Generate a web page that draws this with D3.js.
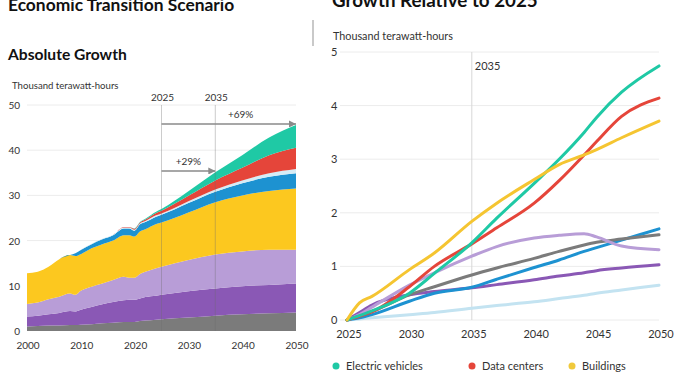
<!DOCTYPE html>
<html>
<head>
<meta charset="utf-8">
<script src="https://cdn.jsdelivr.net/npm/d3@7"></script>
<style>
  body { margin: 0; background: #fff; }
  svg { font-family: Lato, "Open Sans", sans-serif; }
</style>
</head>
<body>
<svg id="chart" width="674" height="375"></svg>
<script>
// ---- Absolute growth (stacked), thousand TWh per layer ----
const years = [2000, 2002, 2004, 2006, 2008, 2009, 2010, 2012, 2014, 2016, 2018, 2019, 2020, 2021, 2022, 2024, 2025, 2030, 2035, 2040, 2045, 2050];
const grayLayer   = [1.0, 1.1, 1.2, 1.2, 1.3, 1.3, 1.4, 1.5, 1.7, 1.8, 2.0, 2.0, 2.0, 2.2, 2.3, 2.5, 2.6, 3.0, 3.4, 3.7, 3.9, 4.1];
const darkPurple  = [2.2, 2.3, 2.5, 2.8, 3.1, 3.0, 3.3, 3.8, 4.2, 4.6, 4.8, 4.9, 4.9, 5.0, 5.2, 5.3, 5.4, 5.8, 6.0, 6.2, 6.3, 6.4];
const lightPurple = [2.8, 2.9, 3.3, 3.6, 3.9, 3.7, 4.2, 4.5, 4.6, 4.9, 5.2, 4.9, 4.9, 5.4, 5.6, 6.1, 6.2, 6.9, 7.5, 7.7, 7.8, 7.5];
const buildings   = [6.8, 6.8, 7.2, 8.3, 8.5, 8.6, 8.1, 8.5, 8.7, 8.7, 9.2, 9.4, 9.1, 9.4, 9.4, 9.8, 9.8, 10.5, 11.6, 12.4, 13.0, 13.5];
const blueLayer   = [0, 0, 0, 0, 0, 0.6, 0.9, 0.9, 1.1, 1.2, 1.5, 1.5, 1.3, 1.6, 1.6, 1.6, 1.7, 2.1, 2.3, 2.7, 3.1, 3.4];
const heatPumps   = [0, 0, 0, 0, 0, 0, 0.1, 0.1, 0.1, 0.1, 0.2, 0.2, 0.2, 0.2, 0.25, 0.3, 0.3, 0.4, 0.5, 0.6, 0.8, 0.95];
const dataCenters = [0, 0, 0, 0, 0, 0, 0, 0, 0, 0, 0.1, 0.1, 0.2, 0.2, 0.3, 0.5, 0.6, 1.2, 2.0, 2.8, 4.0, 4.7];
const evs         = [0, 0, 0, 0, 0, 0, 0, 0, 0, 0, 0, 0, 0.1, 0.1, 0.2, 0.3, 0.4, 1.0, 1.8, 2.8, 3.9, 5.0];

// ---- Growth relative to 2025 (lines) ----
const relYears = [2025, 2026, 2027, 2030, 2032, 2035, 2037, 2040, 2042, 2044, 2045, 2047, 2050];
const relEvs         = [0, 0.08, 0.17, 0.5, 0.87, 1.44, 1.9, 2.55, 3.0, 3.5, 3.78, 4.25, 4.74];
const relDataCenters = [0, 0.07, 0.15, 0.62, 1.0, 1.42, 1.72, 2.18, 2.6, 3.08, 3.33, 3.8, 4.14];
const relBuildings   = [0, 0.32, 0.44, 0.94, 1.25, 1.84, 2.18, 2.62, 2.9, 3.08, 3.18, 3.4, 3.71];
const relLightPurple = [0, 0.1, 0.24, 0.65, 0.88, 1.19, 1.37, 1.53, 1.58, 1.61, 1.55, 1.38, 1.31];
const relGray        = [0, 0.08, 0.16, 0.47, 0.62, 0.84, 0.97, 1.15, 1.28, 1.4, 1.45, 1.51, 1.59];
const relBlue        = [0, 0.04, 0.1, 0.35, 0.5, 0.61, 0.76, 0.98, 1.12, 1.28, 1.35, 1.49, 1.7];
const relDarkPurple  = [0, 0.14, 0.28, 0.47, 0.53, 0.6, 0.66, 0.75, 0.82, 0.88, 0.92, 0.97, 1.03];
const relHeatPumps   = [0, 0.02, 0.04, 0.1, 0.14, 0.22, 0.27, 0.34, 0.4, 0.46, 0.5, 0.56, 0.65];

const absTicks = [0, 10, 20, 30, 40, 50];
const absYearTicks = [2000, 2010, 2020, 2030, 2040, 2050];
const relTicks = [0, 1, 2, 3, 4, 5];
const relYearTicks = [2025, 2030, 2035, 2040, 2045, 2050];
const markerYears = [2025, 2035];
const growthArrows = [
  { from: 2025, to: 2050, level: 45.8, label: '+69%', labelAt: 2039.7 },
  { from: 2025, to: 2035, level: 35.4, label: '+29%', labelAt: 2030 }
];

const colors = {
  gray: '#7b7b7b', darkPurple: '#8a58b5', lightPurple: '#b89dd7', buildings: '#fcc81f',
  blue: '#1d92d1', heatPumps: '#d6ecf6', dataCenters: '#e5453a', evs: '#1fc9a5'
};

const layers = [
  { key: 'gray', values: grayLayer },
  { key: 'darkPurple', values: darkPurple },
  { key: 'lightPurple', values: lightPurple },
  { key: 'buildings', values: buildings },
  { key: 'blue', values: blueLayer },
  { key: 'heatPumps', values: heatPumps },
  { key: 'dataCenters', values: dataCenters },
  { key: 'evs', values: evs }
];

const lines = [
  { key: 'heatPumps', values: relHeatPumps, color: '#c3e3f1' },
  { key: 'darkPurple', values: relDarkPurple },
  { key: 'blue', values: relBlue },
  { key: 'gray', values: relGray },
  { key: 'lightPurple', values: relLightPurple },
  { key: 'dataCenters', values: relDataCenters },
  { key: 'evs', values: relEvs },
  { key: 'buildings', values: relBuildings, color: '#f5c531' }
];

const svg = d3.select('#chart');
const textColor = '#333';

// titles
svg.append('text').attr('x', 8).attr('y', 11)
  .attr('font-size', 17.4).attr('font-weight', 700).attr('fill', '#111')
  .text('Economic Transition Scenario');
svg.append('text').attr('x', 332).attr('y', 7)
  .attr('font-size', 18.8).attr('font-weight', 700).attr('fill', '#111')
  .text('Growth Relative to 2025');
svg.append('rect').attr('x', 312).attr('y', 20).attr('width', 2).attr('height', 26).attr('fill', '#c9c9c9');
svg.append('text').attr('x', 8).attr('y', 60)
  .attr('font-size', 15.6).attr('font-weight', 700).attr('fill', '#111')
  .text('Absolute Growth');

// ---------- left: stacked area ----------
const xL = d3.scaleLinear().domain([2000, 2050]).range([27, 296]);
const yL = d3.scaleLinear().domain([0, 50]).range([331, 105]);

svg.append('text').attr('x', 12).attr('y', 89).attr('font-size', 9.6).attr('fill', textColor)
  .text('Thousand terawatt-hours');

const left = svg.append('g');
left.selectAll('.grid').data(absTicks.filter((d) => d > 0)).enter().append('line')
  .attr('x1', xL(2000)).attr('x2', xL(2050))
  .attr('y1', (d) => yL(d)).attr('y2', (d) => yL(d))
  .attr('stroke', '#ececec');

left.selectAll('.ytick').data(absTicks).enter().append('text')
  .attr('x', 20).attr('y', (d) => yL(d) + 4)
  .attr('text-anchor', 'end').attr('font-size', 10).attr('fill', textColor)
  .text((d) => d);

left.selectAll('.xtick').data(absYearTicks).enter().append('text')
  .attr('x', (d) => xL(d) + 1).attr('y', 349)
  .attr('text-anchor', 'middle').attr('font-size', 10).attr('fill', textColor)
  .text((d) => d);

const table = years.map((yr, i) => {
  const row = { year: yr };
  layers.forEach((l) => row[l.key] = l.values[i]);
  return row;
});
const stacked = d3.stack().keys(layers.map((l) => l.key))(table);
const area = d3.area()
  .x((d) => xL(d.data.year))
  .y0((d) => yL(d[0]))
  .y1((d) => yL(d[1]))
  .curve(d3.curveMonotoneX);

left.selectAll('.layer').data(stacked).enter().append('path')
  .attr('d', area)
  .attr('fill', (d) => colors[d.key]);

// markers for 2025 / 2035
left.selectAll('.marker').data(markerYears).enter().append('line')
  .attr('x1', (d) => xL(d)).attr('x2', (d) => xL(d))
  .attr('y1', yL(50)).attr('y2', yL(0))
  .attr('stroke', 'rgba(110,110,110,0.35)').attr('stroke-width', 1);
left.selectAll('.marker-label').data(markerYears).enter().append('text')
  .attr('x', (d) => xL(d) + 1).attr('y', 101)
  .attr('text-anchor', 'middle').attr('font-size', 10).attr('fill', textColor)
  .text((d) => d);

svg.append('defs').append('marker')
  .attr('id', 'arrow').attr('viewBox', '0 0 10 10')
  .attr('refX', 10).attr('refY', 5)
  .attr('markerWidth', 7).attr('markerHeight', 7)
  .attr('markerUnits', 'userSpaceOnUse')
  .attr('orient', 'auto')
  .append('path').attr('d', 'M0,0 L10,5 L0,10 Z').attr('fill', '#8a8a8a');

left.selectAll('.arrow').data(growthArrows).enter().append('line')
  .attr('x1', (d) => xL(d.from)).attr('x2', (d) => xL(d.to))
  .attr('y1', (d) => yL(d.level)).attr('y2', (d) => yL(d.level))
  .attr('stroke', '#8a8a8a').attr('stroke-width', 1.3)
  .attr('marker-end', 'url(#arrow)');
left.selectAll('.arrow-label').data(growthArrows).enter().append('text')
  .attr('x', (d) => xL(d.labelAt)).attr('y', (d) => yL(d.level) - 6)
  .attr('text-anchor', 'middle').attr('font-size', 10).attr('fill', textColor)
  .text((d) => d.label);

// left legend (first row, cut by the frame)
const leftLegend = [
  { label: 'Electric vehicles', color: colors.evs, x: 10 },
  { label: 'Data centers', color: colors.dataCenters, x: 118 },
  { label: 'Heat pumps', color: '#cfe8f3', x: 220 }
];
const ll = svg.selectAll('.lleg').data(leftLegend).enter().append('g');
ll.append('circle').attr('cx', (d) => d.x).attr('cy', 378).attr('r', 3).attr('fill', (d) => d.color);
ll.append('text').attr('x', (d) => d.x + 8).attr('y', 382).attr('font-size', 10).attr('fill', textColor)
  .text((d) => d.label);

// ---------- right: relative lines ----------
const xR = d3.scaleLinear().domain([2025, 2050]).range([347, 659]);
const yR = d3.scaleLinear().domain([0, 5]).range([320, 52]);

svg.append('text').attr('x', 333).attr('y', 40).attr('font-size', 10.8).attr('fill', textColor)
  .text('Thousand terawatt-hours');

const right = svg.append('g');
right.selectAll('.grid').data(relTicks).enter().append('line')
  .attr('x1', 340).attr('x2', xR(2050))
  .attr('y1', (d) => yR(d)).attr('y2', (d) => yR(d))
  .attr('stroke', '#ececec');
right.selectAll('.ytick').data(relTicks).enter().append('text')
  .attr('x', 331).attr('y', (d) => yR(d) + 4)
  .attr('font-size', 11).attr('fill', textColor)
  .text((d) => d);
right.selectAll('.xtick').data(relYearTicks).enter().append('text')
  .attr('x', (d) => xR(d) + 2).attr('y', 338)
  .attr('text-anchor', 'middle').attr('font-size', 11).attr('fill', textColor)
  .text((d) => d);

right.append('line')
  .attr('x1', xR(2035)).attr('x2', xR(2035))
  .attr('y1', yR(5)).attr('y2', yR(0))
  .attr('stroke', '#d8d8d8');
right.append('text').attr('x', xR(2035) + 3).attr('y', 70)
  .attr('font-size', 11).attr('fill', textColor).text('2035');

const line = d3.line()
  .x((d, i) => xR(relYears[i]))
  .y((d) => yR(d))
  .curve(d3.curveMonotoneX);

right.selectAll('.series').data(lines).enter().append('path')
  .attr('d', (d) => line(d.values))
  .attr('fill', 'none')
  .attr('stroke', (d) => d.color || colors[d.key])
  .attr('stroke-width', 3)
  .attr('stroke-linecap', 'round')
  .attr('stroke-linejoin', 'round');

const rightLegend = [
  { label: 'Electric vehicles', color: colors.evs, x: 336 },
  { label: 'Data centers', color: colors.dataCenters, x: 472 },
  { label: 'Buildings', color: '#f0c93c', x: 572 }
];
const rl = svg.selectAll('.rleg').data(rightLegend).enter().append('g');
rl.append('circle').attr('cx', (d) => d.x).attr('cy', 366).attr('r', 3.5).attr('fill', (d) => d.color);
rl.append('text').attr('x', (d) => d.x + 10).attr('y', 370).attr('font-size', 11).attr('fill', textColor)
  .text((d) => d.label);
</script>
</body>
</html>
